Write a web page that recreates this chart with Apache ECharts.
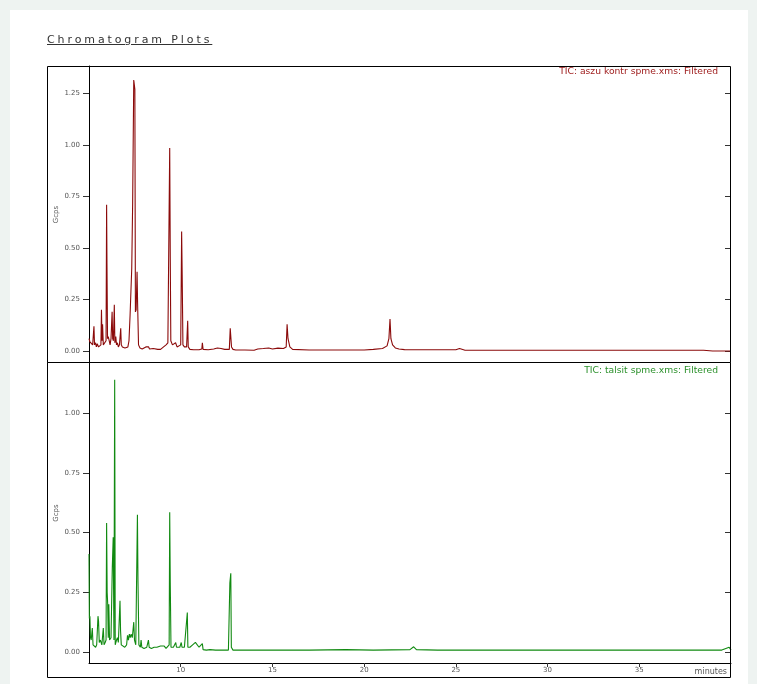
<!DOCTYPE html>
<html>
<head>
<meta charset="utf-8">
<script src="https://cdn.jsdelivr.net/npm/echarts@6/dist/echarts.min.js"></script>
<style>
  html, body { margin: 0; padding: 0; background: #eef3f1; }
  #wrap { position: absolute; left: 0; top: 0; width: 757px; height: 684px; }
  #page { position: absolute; left: 10px; top: 10px; width: 738px; height: 674px; background: #ffffff; }
  #chart { position: absolute; left: 0; top: 0; width: 757px; height: 684px; }
  #title { position: absolute; left: 47px; top: 33px; font-family: "DejaVu Sans", sans-serif; font-size: 11px;
           letter-spacing: 2.9px; text-decoration: underline; color: #333; white-space: nowrap; }
</style>
</head>
<body>
<div id="wrap">
  <div id="page"></div>
  <div id="chart"></div>
  <div id="title">Chromatogram Plots</div>
</div>
<script>
// ---- data (time in minutes, intensity) ----
const topLabel = "TIC: aszu kontr spme.xms: Filtered";
const bottomLabel = "TIC: talsit spme.xms: Filtered";
const yName = "Gcps";
const xTickLabels = [10, 15, 20, 25, 30, 35];
const topYTicks = [0, 0.25, 0.5, 0.75, 1.0, 1.25];
const bottomYTicks = [0, 0.25, 0.5, 0.75, 1.0];

const topTrace = [
  [5.00,0.06],[5.05,0.045],[5.12,0.04],[5.20,0.03],[5.24,0.03],[5.27,0.12],[5.30,0.03],[5.36,0.04],[5.40,0.02],
  [5.45,0.035],[5.52,0.02],[5.60,0.025],[5.65,0.03],[5.68,0.20],[5.71,0.05],[5.74,0.13],[5.78,0.03],[5.85,0.03],
  [5.93,0.05],[5.96,0.71],[5.98,0.42],[6.01,0.06],[6.05,0.07],[6.10,0.05],[6.15,0.03],[6.20,0.06],[6.26,0.19],
  [6.29,0.06],[6.33,0.05],[6.38,0.225],[6.41,0.04],[6.46,0.07],[6.50,0.03],[6.55,0.04],[6.60,0.02],[6.66,0.03],
  [6.73,0.11],[6.76,0.03],[6.82,0.02],[6.90,0.025],[6.96,0.015],[7.05,0.015],[7.12,0.02],[7.18,0.05],[7.24,0.175],
  [7.28,0.18],[7.33,0.40],[7.38,0.72],[7.44,1.315],[7.50,1.27],[7.53,0.19],[7.57,0.20],[7.62,0.385],[7.65,0.23],
  [7.70,0.03],[7.78,0.015],[7.90,0.01],[8.00,0.012],[8.10,0.02],[8.15,0.012],[8.25,0.02],[8.30,0.01],[8.40,0.015],
  [8.50,0.012],[8.60,0.01],[8.75,0.008],[8.90,0.008],[9.00,0.01],[9.20,0.03],[9.30,0.04],[9.37,0.04],[9.40,0.985],
  [9.43,0.46],[9.46,0.05],[9.55,0.03],[9.65,0.03],[9.72,0.04],[9.80,0.02],[9.90,0.02],[10.00,0.03],[10.05,0.58],
  [10.08,0.37],[10.12,0.03],[10.20,0.02],[10.32,0.02],[10.38,0.147],[10.41,0.02],[10.50,0.008],[10.70,0.006],
  [11.00,0.006],[11.15,0.01],[11.18,0.04],[11.22,0.008],[11.50,0.006],[11.80,0.01],[12.00,0.015],[12.20,0.012],
  [12.40,0.008],[12.65,0.008],[12.70,0.11],[12.74,0.115],[12.77,0.02],[12.85,0.008],[13.00,0.005],[13.50,0.005],
  [14.00,0.004],[14.20,0.01],[14.50,0.012],[14.80,0.015],[15.00,0.01],[15.30,0.014],[15.60,0.012],[15.75,0.02],
  [15.80,0.13],[15.85,0.06],[15.95,0.02],[16.10,0.008],[17.00,0.005],[18.00,0.005],[19.00,0.005],[20.00,0.005],
  [20.50,0.008],[21.00,0.012],[21.25,0.025],[21.35,0.06],[21.41,0.155],[21.46,0.06],[21.55,0.03],[21.70,0.015],
  [21.90,0.01],[22.20,0.007],[23.00,0.006],[24.00,0.006],[25.00,0.006],[25.20,0.012],[25.50,0.004],[27.00,0.004],
  [30.00,0.004],[33.00,0.004],[36.00,0.004],[38.50,0.004],[39.00,0.0],[40.00,0.0]
];

const bottomTrace = [
  [5.00,0.41],[5.02,0.14],[5.05,0.15],[5.08,0.06],[5.12,0.05],[5.18,0.10],[5.22,0.03],[5.30,0.03],[5.36,0.02],
  [5.42,0.03],[5.49,0.15],[5.52,0.13],[5.56,0.04],[5.62,0.05],[5.70,0.03],[5.78,0.10],[5.82,0.03],[5.88,0.04],
  [5.93,0.05],[5.96,0.54],[5.99,0.25],[6.02,0.20],[6.05,0.06],[6.08,0.20],[6.12,0.05],[6.20,0.06],[6.27,0.355],
  [6.32,0.48],[6.36,0.05],[6.40,1.14],[6.43,0.03],[6.50,0.05],[6.55,0.06],[6.60,0.04],[6.69,0.215],[6.72,0.09],
  [6.76,0.03],[6.85,0.03],[6.95,0.02],[7.05,0.03],[7.10,0.07],[7.15,0.05],[7.20,0.075],[7.25,0.06],[7.30,0.075],
  [7.36,0.06],[7.44,0.125],[7.48,0.05],[7.55,0.03],[7.64,0.575],[7.67,0.30],[7.72,0.03],[7.80,0.02],[7.84,0.05],
  [7.88,0.02],[8.00,0.015],[8.15,0.02],[8.24,0.05],[8.28,0.02],[8.40,0.015],[8.55,0.02],[8.70,0.02],[8.90,0.025],
  [9.00,0.02],[9.10,0.025],[9.20,0.015],[9.30,0.02],[9.37,0.03],[9.40,0.585],[9.43,0.29],[9.47,0.02],[9.60,0.02],
  [9.73,0.04],[9.77,0.02],[9.95,0.02],[10.03,0.04],[10.07,0.02],[10.20,0.02],[10.36,0.165],[10.39,0.02],[10.50,0.02],
  [10.65,0.03],[10.80,0.04],[10.90,0.035],[11.00,0.02],[11.10,0.015],[11.18,0.035],[11.22,0.01],[11.40,0.008],
  [11.60,0.01],[11.90,0.008],[12.30,0.008],[12.60,0.008],[12.68,0.29],[12.73,0.33],[12.76,0.02],[12.85,0.008],
  [13.50,0.008],[15.00,0.008],[17.00,0.008],[19.00,0.01],[20.50,0.008],[22.50,0.01],[22.70,0.022],[22.85,0.01],
  [24.00,0.008],[27.00,0.008],[30.00,0.008],[33.00,0.008],[36.00,0.008],[39.50,0.008],[39.90,0.02],[40.00,0.008]
];

// ---- chart ----
const chart = echarts.init(document.getElementById('chart'), null, { renderer: 'canvas' });
const FONT = 'DejaVu Sans, sans-serif';
const labelFont = { fontSize: 7, color: '#555', fontFamily: FONT };

function yAx(gridIndex, min, max, ticks, right) {
  return {
    type: 'value', gridIndex: gridIndex, min: min, max: max,
    position: right ? 'right' : 'left',
    name: right ? '' : yName, nameLocation: 'middle', nameGap: 29, nameRotate: 90, nameMoveOverlap: false,
    nameTextStyle: { fontSize: 7, color: '#555', fontFamily: FONT },
    axisLine: { show: !right, lineStyle: { color: '#000', width: 1 } },
    axisTick: { show: true, inside: !!right, length: 6, customValues: ticks, lineStyle: { color: '#333' } },
    axisLabel: Object.assign({ show: !right, margin: 9, customValues: ticks,
      formatter: v => v.toFixed(2) }, labelFont),
    splitLine: { show: false }
  };
}

chart.setOption({
  animation: false,
  backgroundColor: 'transparent',
  grid: [
    { left: 89, top: 66, width: 642, height: 297 },
    { left: 89, top: 363, width: 642, height: 300 }
  ],
  xAxis: [
    { type: 'value', gridIndex: 0, min: 5, max: 40, interval: 5,
      axisLine: { show: false }, axisTick: { show: false }, axisLabel: { show: false }, splitLine: { show: false } },
    { type: 'value', gridIndex: 1, min: 5, max: 40, interval: 5,
      axisLine: { show: true, onZero: false, lineStyle: { color: '#000' } },
      axisTick: { show: true, length: 4, lineStyle: { color: '#333' } },
      axisLabel: Object.assign({ margin: 4, showMinLabel: false, showMaxLabel: false,
        formatter: v => (xTickLabels.indexOf(v) >= 0 ? String(v) : '') }, labelFont),
      splitLine: { show: false } }
  ],
  yAxis: [
    yAx(0, -0.058, 1.383, topYTicks, false),
    yAx(1, -0.046, 1.21, bottomYTicks, false),
    yAx(0, -0.058, 1.383, topYTicks, true),
    yAx(1, -0.046, 1.21, bottomYTicks, true)
  ],
  series: [
    { type: 'line', name: topLabel, xAxisIndex: 0, yAxisIndex: 0, data: topTrace, showSymbol: false,
      sampling: false, lineStyle: { color: '#8b0a0a', width: 1.1 }, itemStyle: { color: '#8b0a0a' } },
    { type: 'line', name: bottomLabel, xAxisIndex: 1, yAxisIndex: 1, data: bottomTrace, showSymbol: false,
      sampling: false, lineStyle: { color: '#118a11', width: 1.1 }, itemStyle: { color: '#118a11' } }
  ],
  graphic: [
    { type: 'rect', shape: { x: 47.5, y: 66.5, width: 683, height: 296 }, style: { fill: null, stroke: '#000', lineWidth: 1 }, z: 100 },
    { type: 'rect', shape: { x: 47.5, y: 362.5, width: 683, height: 315 }, style: { fill: null, stroke: '#000', lineWidth: 1 }, z: 100 },
    { type: 'text', x: 718, y: 67, style: { text: topLabel, align: 'right', fill: '#a02020',
      font: '9.2px DejaVu Sans, sans-serif' }, z: 100 },
    { type: 'text', x: 718, y: 366, style: { text: bottomLabel, align: 'right', fill: '#2a902a',
      font: '9.2px DejaVu Sans, sans-serif' }, z: 100 },
    { type: 'text', x: 727, y: 668, style: { text: 'minutes', align: 'right', fill: '#555',
      font: '8px DejaVu Sans, sans-serif' }, z: 100 }
  ]
});
</script>
</body>
</html>
